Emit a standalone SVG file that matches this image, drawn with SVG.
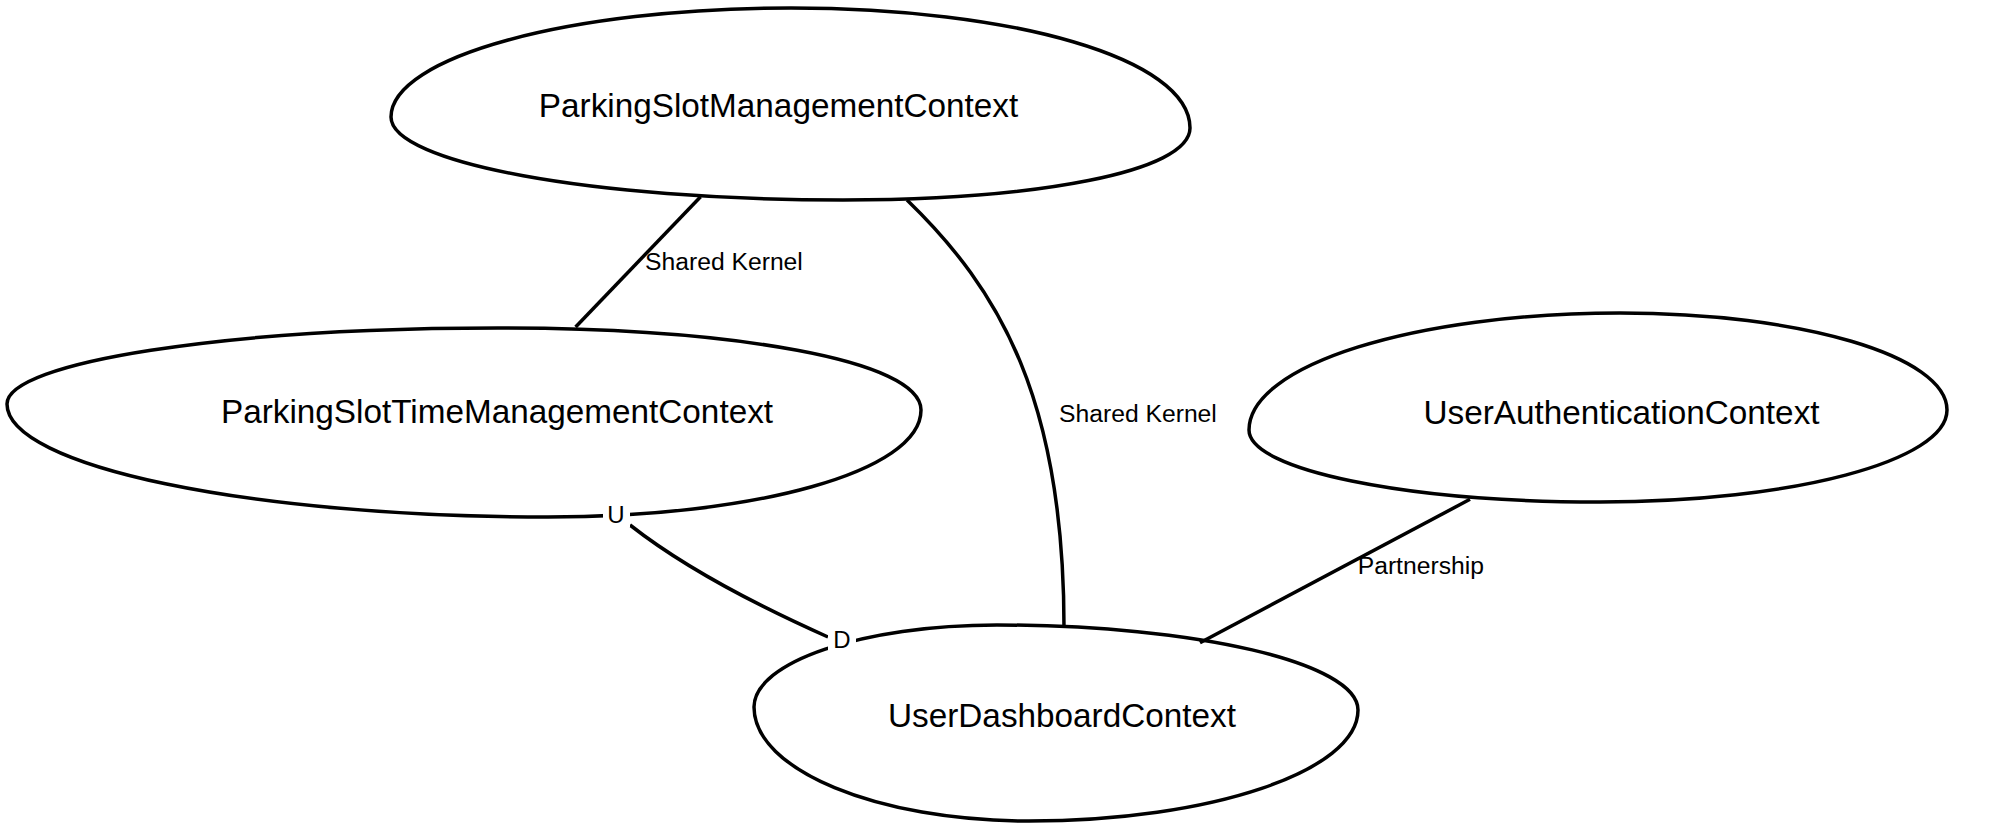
<svg xmlns="http://www.w3.org/2000/svg" width="2000" height="829" viewBox="0 0 2000 829">
<style>
.node{fill:#fff;stroke:#000;stroke-width:3.5}
.edge{fill:none;stroke:#000;stroke-width:3.5}
.nt{font-family:"Liberation Sans",Arial,sans-serif;font-size:33.3px;fill:#000;text-anchor:middle}
.lt{font-family:"Liberation Sans",Arial,sans-serif;font-size:24.7px;fill:#000}
.ud{font-family:"Liberation Sans",Arial,sans-serif;font-size:24px;fill:#000;text-anchor:middle}
</style>
<rect width="2000" height="829" fill="#fff"/>
<g id="ParkingSlotManagementContext">
<path class="node" d="M391,117 C391,57 570,8 791,8 C1011,8 1190,58 1190,128 C1190,172 1035,200 843,200 C593,200 391,163 391,117 Z"/>
<text class="nt" x="778.5" y="117">ParkingSlotManagementContext</text>
</g>
<g id="ParkingSlotTimeManagementContext">
<path class="node" d="M7,404 C7,362 227,328 498,328 C732,328 921,360 921,410 C921,472 754,517 548,517 C249,517 7,466 7,404 Z"/>
<text class="nt" x="497" y="423">ParkingSlotTimeManagementContext</text>
</g>
<g id="UserAuthenticationContext">
<path class="node" d="M1249,430 C1249,365 1415,313 1620,313 C1801,313 1947,356 1947,410 C1947,461 1792,502 1600,502 C1406,502 1249,470 1249,430 Z"/>
<text class="nt" x="1621.5" y="424">UserAuthenticationContext</text>
</g>
<g id="UserDashboardContext">
<path class="node" d="M754,707 C754,662 863,625 997,625 C1196,625 1358,663 1358,710 C1358,771 1211,821 1029,821 C877,821 754,770 754,707 Z"/>
<text class="nt" x="1062" y="727">UserDashboardContext</text>
</g>
<g id="connectors">
<line class="edge" x1="700.6" y1="196.7" x2="575.6" y2="327"/>
<text class="lt" x="645" y="270">Shared Kernel</text>
<path class="edge" d="M907,200 C1000,290 1064,400 1064,627"/>
<text class="lt" x="1059" y="421.7">Shared Kernel</text>
<line class="edge" x1="1470" y1="499.3" x2="1200" y2="642.7"/>
<text class="lt" x="1357.7" y="574.3">Partnership</text>
<path class="edge" d="M630,525 Q700,580 828,637"/>
<rect x="603" y="502" width="27" height="25" fill="#fff"/>
<text class="ud" x="616" y="523">U</text>
<rect x="828" y="627" width="28" height="25" fill="#fff"/>
<text class="ud" x="842" y="648">D</text>
</g>
</svg>
